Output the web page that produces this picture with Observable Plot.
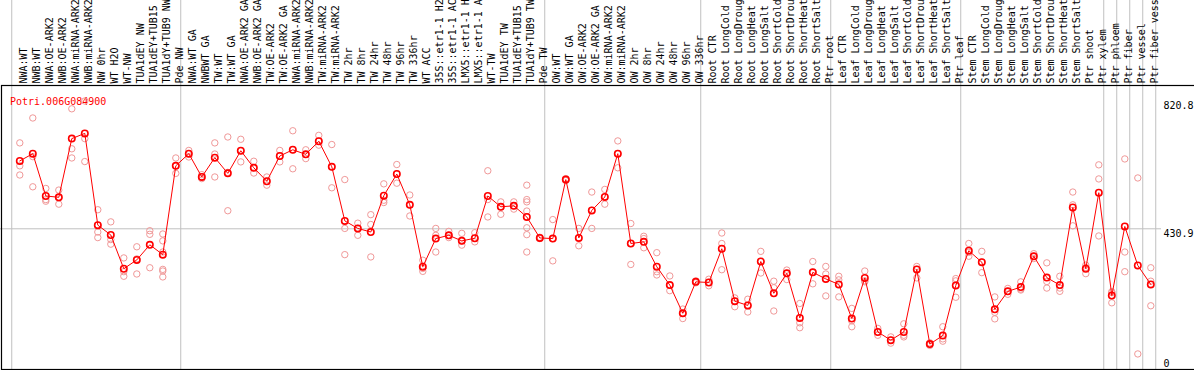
<!DOCTYPE html>
<html>
<head>
<meta charset="utf-8">
<script src="https://cdn.jsdelivr.net/npm/d3@7"></script>
<script src="https://cdn.jsdelivr.net/npm/@observablehq/plot@0.6"></script>
<style>
  html, body { margin: 0; padding: 0; background: #fff; }
  #chart svg { display: block; }
</style>
</head>
<body>
<div id="chart"></div>
<script>
const geneId = "Potri.006G084900";

const labels = [
  "NWA:WT","NWB:WT","NWA:OE-ARK2","NWB:OE-ARK2","NWA:miRNA-ARK2","NWB:miRNA-ARK2","NW 0hr","WT H2O","WT-NW","TUA1dEY NW","TUA1dEY+TUB15 NW","TUA1dY+TUB9 NW","Pde NW",
  "NWA:WT GA","NWBWT GA","TW:WT","TW:WT GA","NWA:OE-ARK2 GA","NWB:OE-ARK2 GA","TW:OE-ARK2","TW:OE-ARK2 GA","NWA:miRNA-ARK2 GA","NWB:miRNA-ARK2 GA","TW:miRNA-ARK2","TW:miRNA-ARK2 GA","TW 2hr","TW 8hr","TW 24hr","TW 48hr","TW 96hr","TW 336hr","WT ACC","35S::etr1-1 H2O","35S::etr1-1 ACC","LMX5::etr1-1 H2O","LMX5::etr1-1 ACC","WT-TW","TUA1dEY TW","TUA1dEY+TUB15 TW","TUA1dY+TUB9 TW","Pde TW",
  "OW:WT","OW:WT GA","OW:OE-ARK2","OW:OE-ARK2 GA","OW:miRNA-ARK2","OW:miRNA-ARK2 GA","OW 2hr","OW 8hr","OW 24hr","OW 48hr","OW 96hr","OW 336hr",
  "Root CTR","Root LongCold","Root LongDrought","Root LongHeat","Root LongSalt","Root ShortCold","Root ShortDrought","Root ShortHeat","Root ShortSalt","Ptr root",
  "Leaf CTR","Leaf LongCold","Leaf LongDrought","Leaf LongHeat","Leaf LongSalt","Leaf ShortCold","Leaf ShortDrought","Leaf ShortHeat","Leaf ShortSalt","Ptr leaf",
  "Stem CTR","Stem LongCold","Stem LongDrought","Stem LongHeat","Stem LongSalt","Stem ShortCold","Stem ShortDrought","Stem ShortHeat","Stem ShortSalt","Ptr shoot","Ptr xylem",
  "Ptr phloem","Ptr fiber","Ptr vessel","Ptr fiber vessel"
];

// index of the first sample of each group (last entry = end)
const groupStarts = [0, 13, 41, 53, 63, 73, 84, 85, 86, 87, 88];

const means = [
  638,660,531,527,706,722,442,412,309,336,382,352,623,
  660,589,648,600,669,617,576,653,672,658,698,620,455,432,421,532,598,504,315,401,411,394,402,531,498,501,467,403,
  401,581,403,487,528,660,386,391,315,259,173,269,
  267,370,210,197,331,234,295,159,298,278,
  261,157,281,116,91,116,307,79,105,258,
  364,329,185,240,253,347,282,259,496,309,541,
  227,438,319,261
];

const replicates = [
  [693,623,595],[769,651,559],[554,520,515],[549,526,506],[797,675,647],[820.8,706,636],[489,442,421,404],[452,398,384],[342,300,286],[376,339,293],[425,414,312],[415,394,360,307,302,284],[647,623,600],
  [670,660,650],[596,589,584],[693,659,589],[711,603,486],[704,669,635],[637,617,601],[589,576,564],[670,653,635],[730,672,614],[672,658,645],[716,698,686],[688,620,556],[581,432,352],[448,432,411],[474,444,345],[568,518,511],[627,598,570],[534,504,470],[335,310,301],[432,411,360],[423,411,404],[417,394,381],[419,402,391],[608,520,467],[513,498,475],[513,501,491],[564,520,513,485,434,413,360],[405,403,401],
  [459,401,333],[584,581,578],[432,403,379],[543,487,432],[551,528,506],[699,660,617],[447,386,322],[408,401,373],[358,300,290],[287,259,242],[186,173,157],[272,269,266],
  [277,267,257],[418,386,306],[220,210,193],[216,197,177],[362,331,296],[271,251,180],[305,295,276],[203,144,129],[331,298,263],[316,293,226],
  [286,275,223],[188,150,132],[302,272,269],[127,116,106],[101,91,82],[141,106,101],[316,307,281],[83,79,75],[132,95,88],[279,272,222],
  [386,359,347],[362,329,297],[223,176,156],[249,240,231],[269,247,244],[355,347,340],[327,270,250],[286,250,240],[543,504,440],[320,313,294],[626,583,409],
  [239,236,205],[644,360,300],[586,49],[312,271,196]
];

const yTickTop = [820.8, 430.9];
const yTickBottom = [0];
const yGrid = [430.9];

const meanData = means.map((v, i) => ({i, v}));
const repData = replicates.flatMap((arr, i) => arr.map(v => ({i, v})));
const sepData = groupStarts.map(s => s - 0.62);

const mono = "DejaVu Sans Mono, monospace";

const chart = Plot.plot({
  width: 1194,
  height: 370,
  margin: 0,
  x: {type: "linear", domain: [0, 87], range: [19.3, 1150.3], axis: null},
  y: {type: "linear", domain: [0, 820.8], range: [369.5, 100.5], axis: null},
  style: {background: "white"},
  marks: [
    Plot.ruleY(yGrid, {stroke: "#c0c0c0", strokeWidth: 1, insetRight: 33}),
    Plot.ruleX(sepData, {x: d => d, stroke: "#c0c0c0", strokeWidth: 1, insetBottom: 1}),
    Plot.frame({stroke: "black", strokeWidth: 1.2, insetTop: 85, insetLeft: 1, insetBottom: 1, insetRight: -4}),
    Plot.text(labels, {
      x: (d, i) => i, frameAnchor: "top", dy: 83, rotate: -90, textAnchor: "start",
      text: d => d, fontFamily: mono, fontSize: 10, fill: "black"
    }),
    Plot.text([geneId], {
      frameAnchor: "top-left", dx: 9.5, dy: 97, textAnchor: "start",
      text: d => d, fontFamily: mono, fontSize: 10, fill: "red"
    }),
    Plot.text(yTickTop, {
      y: d => d, frameAnchor: "right", dx: -31, textAnchor: "start", lineAnchor: "top", dy: 1,
      text: d => String(d), fontFamily: mono, fontSize: 10, fill: "black"
    }),
    Plot.text(yTickBottom, {
      y: d => d, frameAnchor: "right", dx: -31, textAnchor: "start", lineAnchor: "bottom", dy: -3,
      text: d => String(d), fontFamily: mono, fontSize: 10, fill: "black"
    }),
    Plot.dot(repData, {x: "i", y: "v", r: 3.2, stroke: "#f09898", strokeWidth: 1, fill: "none"}),
    Plot.line(meanData, {x: "i", y: "v", stroke: "red", strokeWidth: 1}),
    Plot.dot(meanData, {x: "i", y: "v", r: 3.2, stroke: "red", strokeWidth: 1.6, fill: "none"})
  ]
});

document.getElementById("chart").appendChild(chart);
</script>
</body>
</html>
